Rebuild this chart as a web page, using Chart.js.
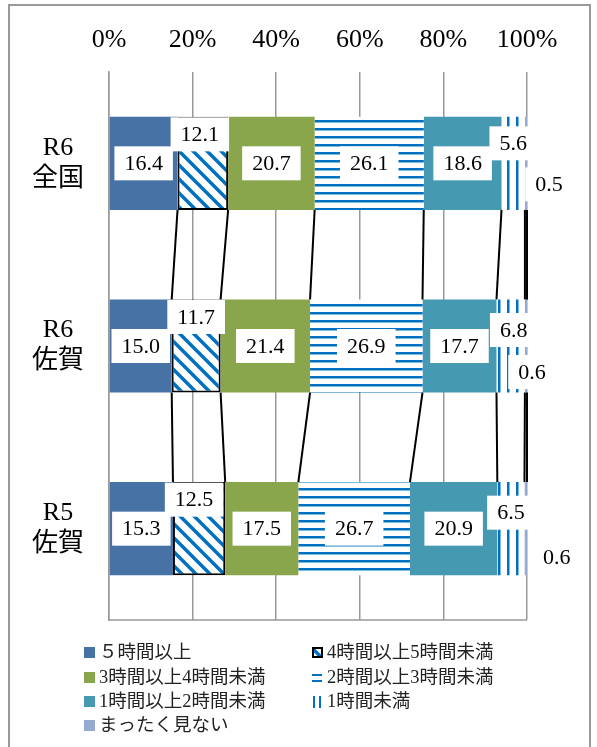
<!DOCTYPE html>
<html>
<head>
<meta charset="utf-8">
<script src="https://cdn.jsdelivr.net/npm/chart.js@4"></script>
<style>
  body { margin: 0; background: #fff; }
  #frame { position: absolute; left: 8px; top: 4px; width: 579px; height: 800px; border: 2px solid #9a9a9a; }
  #wrap { position: absolute; left: 0; top: 0; width: 597px; height: 747px; }
</style>
</head>
<body>
<div id="frame"></div>
<div id="wrap"><canvas id="chart" width="597" height="747"></canvas></div>
<script>
// categories (top to bottom)
const categories = [['R6', '全国'], ['R6', '佐賀'], ['R5', '佐賀']];
const seriesNames = ['５時間以上', '4時間以上5時間未満', '3時間以上4時間未満', '2時間以上3時間未満', '1時間以上2時間未満', '1時間未満', 'まったく見ない'];

// percentages per category
const over5h = [16.4, 15.0, 15.3];
const h4to5 = [12.1, 11.7, 12.5];
const h3to4 = [20.7, 21.4, 17.5];
const h2to3 = [26.1, 26.9, 26.7];
const h1to2 = [18.6, 17.7, 20.9];
const under1h = [5.6, 6.8, 6.5];
const never = [0.5, 0.6, 0.6];

const xTicks = [0, 20, 40, 60, 80, 100];

const FONT = '"Liberation Serif", "Times New Roman", "DejaVu Serif", "Noto Sans CJK JP", serif';
const BLUE = '#0070C0';

function makePattern(kind) {
  const c = document.createElement('canvas');
  const g = c.getContext('2d');
  if (kind === 'diag') {
    const s = 14;
    c.width = s; c.height = s;
    g.fillStyle = '#fff'; g.fillRect(0, 0, s, s);
    g.strokeStyle = BLUE; g.lineWidth = 3.5;
    [-s, 0, s].forEach(o => {
      g.beginPath(); g.moveTo(o - 2, -2); g.lineTo(o + s + 2, s + 2); g.stroke();
    });
  } else if (kind === 'horiz') {
    c.width = 8; c.height = 8;
    g.fillStyle = '#fff'; g.fillRect(0, 0, 8, 8);
    g.fillStyle = BLUE; g.fillRect(0, 0, 8, 2.5);
  } else {
    c.width = 9; c.height = 9;
    g.fillStyle = '#fff'; g.fillRect(0, 0, 9, 9);
    g.fillStyle = BLUE; g.fillRect(3, 0, 2.5, 9);
  }
  return document.getElementById('chart').getContext('2d').createPattern(c, 'repeat');
}

const fills = ['#4672A6', makePattern('diag'), '#8AA64C', makePattern('horiz'), '#4599B1', makePattern('vert'), '#96A9D1'];
const values = [over5h, h4to5, h3to4, h2to3, h1to2, under1h, never];

// label nudges (dx, dy) for crowded segments
const labelShift = {
  1: [[-3, -29], [0, -29], [-5, -29]],
  5: [[0, -20], [3, -16], [0, -16]],
  6: [[23, 21], [6, 26], [31, 29]]
};

const extras = {
  id: 'extras',
  afterDatasetsDraw(chart) {
    const ctx = chart.ctx;
    const area = chart.chartArea;
    ctx.save();
    // series lines between bars
    ctx.strokeStyle = '#000';
    ctx.lineWidth = 2;
    chart.data.datasets.forEach((ds, k) => {
      const els = chart.getDatasetMeta(k).data;
      for (let i = 0; i < els.length - 1; i++) {
        const a = els[i], b = els[i + 1];
        ctx.beginPath();
        ctx.moveTo(Math.min(a.x, area.right), a.y + a.height / 2);
        ctx.lineTo(Math.min(b.x, area.right), b.y - b.height / 2);
        ctx.stroke();
      }
    });
    // bottom border of plot
    ctx.strokeStyle = '#999';
    ctx.lineWidth = 1.5;
    ctx.beginPath();
    ctx.moveTo(area.left, area.bottom);
    ctx.lineTo(area.right, area.bottom);
    ctx.stroke();

    // data labels
    ctx.font = '22px ' + FONT;
    ctx.textAlign = 'center';
    ctx.textBaseline = 'middle';
    chart.data.datasets.forEach((ds, k) => {
      chart.getDatasetMeta(k).data.forEach((el, i) => {
        const txt = ds.data[i].toFixed(1);
        const sh = labelShift[k] ? labelShift[k][i] : [0, 0];
        const cx = (Math.min(el.x, area.right) + el.base) / 2 + sh[0];
        const cy = el.y + sh[1];
        const w = ctx.measureText(txt).width + 20;
        ctx.fillStyle = '#fff';
        ctx.fillRect(cx - w / 2, cy - 17, w, 34);
        ctx.fillStyle = '#000';
        ctx.fillText(txt, cx, cy + 1);
      });
    });

    // legend, two columns
    ctx.font = '18.5px ' + FONT;
    ctx.textAlign = 'left';
    const colX = [84, 312];
    const rowY = [653, 678, 702, 726];
    chart.data.datasets.forEach((ds, k) => {
      const x = colX[k % 2], y = rowY[Math.floor(k / 2)];
      if (k === 3) {
        ctx.fillStyle = BLUE;
        ctx.fillRect(x, y - 4, 10, 2);
        ctx.fillRect(x, y + 2, 10, 2);
      } else if (k === 5) {
        ctx.fillStyle = BLUE;
        ctx.fillRect(x + 1, y - 6, 2, 12);
        ctx.fillRect(x + 7, y - 6, 2, 12);
      } else {
        ctx.fillStyle = ds.backgroundColor;
        ctx.fillRect(x, y - 6, 11, 11);
        if (k === 1) {
          ctx.strokeStyle = '#000';
          ctx.lineWidth = 2;
          ctx.strokeRect(x + 1, y - 5, 9, 9);
        }
      }
      ctx.fillStyle = '#222';
      ctx.fillText(ds.label, x + 15, y);
    });
    ctx.restore();
  }
};

new Chart(document.getElementById('chart'), {
  type: 'bar',
  data: {
    labels: categories,
    datasets: seriesNames.map((name, k) => ({
      label: name,
      data: values[k],
      backgroundColor: fills[k],
      borderColor: k === 1 ? '#000' : 'rgba(0,0,0,0)',
      borderWidth: k === 1 ? 2 : 0,
      borderSkipped: false,
      barPercentage: 0.51,
      categoryPercentage: 1
    }))
  },
  options: {
    indexAxis: 'y',
    responsive: false,
    animation: false,
    layout: { padding: { left: 9, right: 70, top: 20, bottom: 127 } },
    scales: {
      x: {
        position: 'top',
        stacked: true,
        min: 0,
        max: 100,
        afterBuildTicks: axis => { axis.ticks = xTicks.map(v => ({ value: v })); },
        afterFit: axis => { axis.height = 52; },
        ticks: {
          padding: 16,
          color: '#000',
          font: { family: FONT, size: 26 },
          callback: v => v + '%'
        },
        grid: { color: '#999', lineWidth: 1.5, drawTicks: false },
        border: { display: false }
      },
      y: {
        stacked: true,
        afterFit: axis => { axis.width = 100; },
        ticks: {
          crossAlign: 'center',
          padding: 17,
          color: '#000',
          font: { family: FONT, size: 26, lineHeight: 1.2 }
        },
        grid: { display: false },
        border: { display: true, color: '#999', width: 1.5 }
      }
    },
    plugins: {
      legend: { display: false },
      tooltip: { enabled: false }
    }
  },
  plugins: [extras]
});
</script>
</body>
</html>
